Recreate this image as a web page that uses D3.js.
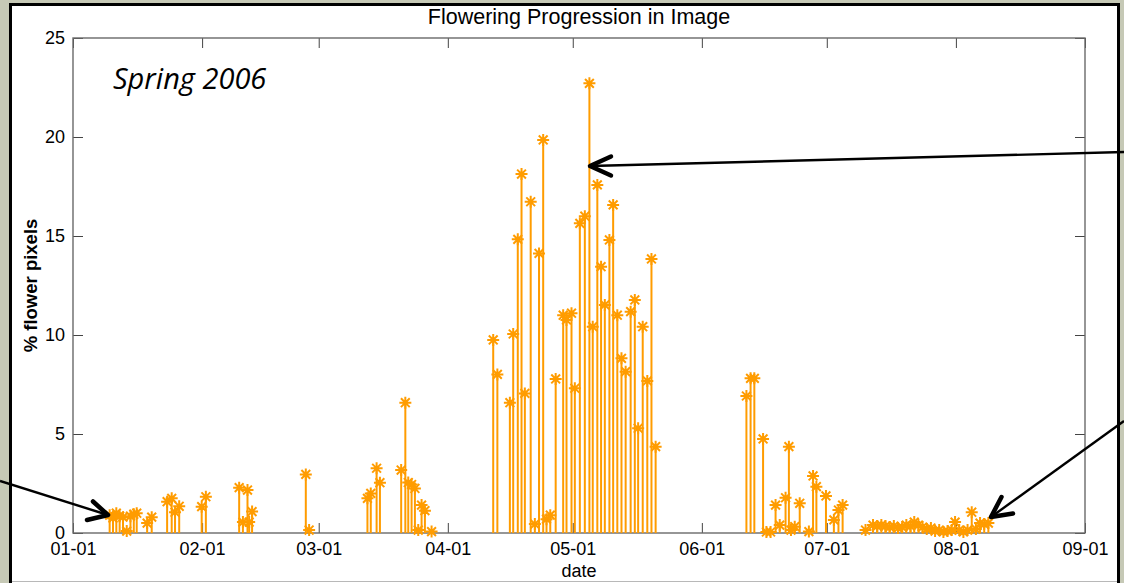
<!DOCTYPE html>
<html>
<head>
<meta charset="utf-8">
<script src="https://cdn.jsdelivr.net/npm/d3@7"></script>
<style>
  html, body { margin: 0; padding: 0; background: #c6c9b6; }
  svg { display: block; }
</style>
</head>
<body>
<svg id="chart" width="1124" height="583"></svg>
<script>
// ---- data (day offsets from 2006-01-01, % flower pixels) ----
const days = [
  8.8, 9.6, 10.4, 11.2, 12.0, 12.9, 13.8, 14.6, 15.3, 17.8, 18.9,
  22.6, 23.7, 24.5, 25.5,
  30.9, 31.9,
  39.9, 40.8, 41.9, 42.3, 43.0,
  55.9, 56.7,
  70.7, 71.5, 72.9, 73.7, 78.8, 79.8, 80.5, 81.3, 82.1, 82.9, 83.7, 84.5, 86.1,
  100.9, 101.9, 104.9, 105.7, 106.8, 107.7, 108.5, 109.9, 110.9, 111.9, 112.9, 113.7, 114.6, 115.9,
  117.7, 118.5, 119.7, 120.5, 121.7, 122.9, 124.0, 124.8, 125.9, 126.8, 127.7, 128.8, 129.7,
  130.7, 131.7, 132.7, 133.9, 134.9, 135.7, 136.8, 137.9, 138.9, 139.9,
  161.7, 162.7, 163.6, 165.7, 166.5, 167.5, 168.7, 169.7, 171.1, 171.9, 172.4, 173.3, 174.5,
  176.7, 177.7, 178.5, 180.8, 182.7, 183.8, 184.8,
  190.3, 192.1, 193.1, 194.1, 195.1, 196.1, 197.1, 198.1, 199.1, 200.1, 201.1, 202.0, 203.0,
  204.0, 205.0, 206.0, 207.0, 208.0, 209.0, 210.0, 211.0, 211.8, 212.8, 213.8, 214.8, 215.8,
  216.8, 217.8, 218.8, 219.8
];
const values = [
  0.9, 0.75, 1.0, 0.85, 0.8, 0.1, 0.85, 0.95, 1.0, 0.5, 0.8,
  1.58, 1.75, 1.05, 1.35,
  1.33, 1.83,
  2.29, 0.55, 2.17, 0.55, 1.08,
  2.96, 0.15,
  1.75, 2.0, 3.27, 2.54, 3.18, 6.58, 2.55, 2.45, 2.25, 0.15, 1.41, 1.13, 0.07,
  9.75, 8.01, 6.58, 10.05, 14.83, 18.13, 7.05, 16.73, 0.45, 14.12, 19.85, 0.7, 0.9, 7.78,
  11.0, 10.76, 11.1, 7.31, 15.64, 16.0, 22.71, 10.42, 17.58, 13.45, 11.52, 14.8, 16.57,
  11.0, 8.82, 8.15, 11.18, 11.77, 5.29, 10.42, 7.68, 13.84, 4.36,
  6.92, 7.81, 7.81, 4.75, 0.05, 0.05, 1.41, 0.4, 1.78, 4.36, 0.15, 0.32, 1.5,
  0.07, 2.88, 2.34, 1.87, 0.66, 1.16, 1.41,
  0.15, 0.4, 0.35, 0.4, 0.35, 0.3, 0.35, 0.25, 0.3, 0.4, 0.35, 0.55, 0.4,
  0.3, 0.2, 0.25, 0.1, 0.15, 0.05, 0.1, 0.15, 0.55, 0.15, 0.05, 0.15, 1.05,
  0.2, 0.5, 0.45, 0.5
];
const yTickValues = [0, 5, 10, 15, 20, 25];
const xTickDates = ["2006-01-01", "2006-02-01", "2006-03-01", "2006-04-01", "2006-05-01",
                    "2006-06-01", "2006-07-01", "2006-08-01", "2006-09-01"];
const titleText = "Flowering Progression in Image";
const xLabelText = "date";
const yLabelText = "% flower pixels";
const noteText = "Spring 2006";

// ---- layout ----
const W = 1124, H = 583;
const L = 73, R = 1085, T = 38, B = 533;
const orange = "#ff9c00";
const font = "'Liberation Sans', Arial, Helvetica, sans-serif";

const svg = d3.select("#chart");

// frame
svg.append("rect").attr("x", 0).attr("y", 0).attr("width", W).attr("height", H).attr("fill", "#c6c9b6");
svg.append("rect").attr("x", 10.5).attr("y", 4.5).attr("width", 1108).attr("height", 590)
  .attr("fill", "#ffffff").attr("stroke", "#000").attr("stroke-width", 3);
svg.append("line").attr("x1", 12).attr("x2", 1117).attr("y1", 581.5).attr("y2", 581.5)
  .attr("stroke", "#b8b8b8").attr("stroke-width", 1);

const t0 = Date.UTC(2006, 0, 1);
const toDate = d => new Date(t0 + d * 864e5);
const x = d3.scaleUtc().domain([new Date(t0), new Date(Date.UTC(2006, 8, 1))]).range([L, R]);
const y = d3.scaleLinear().domain([0, 25]).range([B, T]);
const xTicks = xTickDates.map(s => new Date(s + "T00:00:00Z"));
const fmt = d3.utcFormat("%m-%d");

// axes
const gx = svg.append("g").attr("transform", `translate(0,${B})`)
  .call(d3.axisBottom(x).tickValues(xTicks).tickFormat(fmt).tickSizeInner(-10).tickSizeOuter(0).tickPadding(9));
const gxt = svg.append("g").attr("transform", `translate(0,${T})`)
  .call(d3.axisTop(x).tickValues(xTicks).tickFormat("").tickSizeInner(-10).tickSizeOuter(0));
const gy = svg.append("g").attr("transform", `translate(${L},0)`)
  .call(d3.axisLeft(y).tickValues(yTickValues).tickSizeInner(-10).tickSizeOuter(0).tickPadding(8));
const gyr = svg.append("g").attr("transform", `translate(${R},0)`)
  .call(d3.axisRight(y).tickValues(yTickValues).tickFormat("").tickSizeInner(-10).tickSizeOuter(0));
[gx, gxt, gy, gyr].forEach(g => {
  g.select(".domain").remove();
  g.selectAll(".tick line").attr("stroke", "#444").attr("stroke-width", 1);
  g.selectAll(".tick text").attr("font-family", font).attr("font-size", 18).attr("fill", "#000");
});

// box
svg.append("rect").attr("x", L).attr("y", T).attr("width", R - L).attr("height", B - T)
  .attr("fill", "none").attr("stroke", "#6a6a6a").attr("stroke-width", 1.4);

// stems
const data = days.map((d, i) => ({ date: toDate(d), v: values[i] }));
const plot = svg.append("g");
plot.selectAll("line.stem").data(data).join("line").attr("class", "stem")
  .attr("x1", d => x(d.date)).attr("x2", d => x(d.date))
  .attr("y1", y(0)).attr("y2", d => y(d.v))
  .attr("stroke", orange).attr("stroke-width", 2);

// asterisk markers
const r = 6, rd = 4.4;
const star = `M${-r},0L${r},0M0,${-r}L0,${r}M${-rd},${-rd}L${rd},${rd}M${-rd},${rd}L${rd},${-rd}`;
plot.selectAll("path.mk").data(data).join("path").attr("class", "mk")
  .attr("transform", d => `translate(${x(d.date)},${y(d.v)})`)
  .attr("d", star).attr("fill", "none").attr("stroke", orange).attr("stroke-width", 2);

// texts
svg.append("text").attr("x", (L + R) / 2).attr("y", 24).attr("text-anchor", "middle")
  .attr("font-family", font).attr("font-size", 21.5).text(titleText);
svg.append("text").attr("x", (L + R) / 2).attr("y", 577).attr("text-anchor", "middle")
  .attr("font-family", font).attr("font-size", 18).text(xLabelText);
svg.append("text").attr("transform", `translate(37,${(T + B) / 2}) rotate(-90)`).attr("text-anchor", "middle")
  .attr("font-family", font).attr("font-size", 18.5).attr("font-weight", "bold").text(yLabelText);
svg.append("text").attr("x", 113).attr("y", 89)
  .attr("font-family", "'Open Sans', Calibri, sans-serif").attr("font-style", "italic").attr("font-size", 29)
  .text(noteText);

// arrows
const arrows = [
  { line: [[1124, 152], [590, 166]], head: [[611, 156.5], [590, 166], [611, 175.5]] },
  { line: [[1124, 421], [991, 517]], head: [[1001.5, 497], [991, 517], [1013, 513.5]] },
  { line: [[0, 481], [108, 515]], head: [[93, 501.5], [108, 515], [87, 520]] }
];
const ln = d3.line();
arrows.forEach(a => {
  svg.append("path").attr("d", ln(a.line)).attr("fill", "none").attr("stroke", "#000").attr("stroke-width", 2.4);
  svg.append("path").attr("d", ln(a.head)).attr("fill", "none").attr("stroke", "#000")
    .attr("stroke-width", 4.5).attr("stroke-linecap", "round").attr("stroke-linejoin", "round");
});
</script>
</body>
</html>
